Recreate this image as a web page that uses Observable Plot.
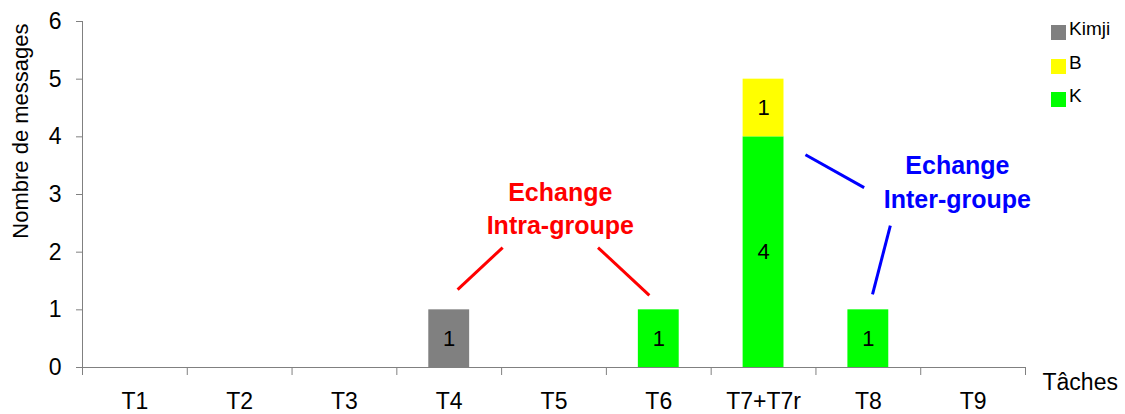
<!DOCTYPE html>
<html><head><meta charset="utf-8">
<script src="https://cdn.jsdelivr.net/npm/d3@7"></script>
<script src="https://cdn.jsdelivr.net/npm/@observablehq/plot@0.6"></script>
<style>
html,body{margin:0;padding:0;background:#fff;}
#chart{position:relative;width:1125px;height:414px;font-family:"Liberation Sans",Arial,Helvetica,sans-serif;}
#chart svg{display:block;}
.legend{position:absolute;left:1051px;top:0;}
.legend .sw{position:absolute;left:0;width:15px;height:15px;}
.legend .lb{position:absolute;left:18px;font-size:19px;line-height:19px;color:#000;white-space:nowrap;}
</style></head><body><div id="chart"></div>
<script>
// ---- data ----
const categories = ["T1","T2","T3","T4","T5","T6","T7+T7r","T8","T9"];
const kimjiValues = [0,0,0,1,0,0,0,0,0];
const kValues     = [0,0,0,0,0,1,4,1,0];
const bValues     = [0,0,0,0,0,0,1,0,0];
const stackOrder  = ["Kimji","K","B"];
const legendOrder = ["Kimji","B","K"];
const seriesColors = {Kimji:"#808080", B:"#ffff00", K:"#00ff00"};
const yTicks = [0,1,2,3,4,5,6];
const xLabel = "Tâches";
const yLabel = "Nombre de messages";

// annotations (data units: x = category index units, y = messages)
const intraText = ["Echange","Intra-groupe"];
const interText = ["Echange","Inter-groupe"];
const intraLines = [[3.58,1.35,4.01,2.08],[4.92,2.08,5.41,1.25]];
const interLines = [[6.90,3.69,7.46,3.12],[7.71,2.46,7.54,1.27]];
const intraPos = {x:4.56, y:[3.03,2.45]};
const interPos = {x:8.35, y:[3.50,2.90]};

// ---- build table ----
const valuesBySeries = {Kimji:kimjiValues, K:kValues, B:bValues};
const rows = [];
stackOrder.forEach(s => valuesBySeries[s].forEach((v,i) => { if (v > 0) rows.push({i, cat:categories[i], series:s, value:v}); }));
const boundaries = d3.range(categories.length + 1);
const centers = categories.map((c,i) => i + 0.5);
const linkRows = [
  ...intraLines.map(l => ({x1:l[0],y1:l[1],x2:l[2],y2:l[3],c:"#ff0000"})),
  ...interLines.map(l => ({x1:l[0],y1:l[1],x2:l[2],y2:l[3],c:"#0000ff"}))
];
const annText = [
  ...intraText.map((t,k) => ({t, x:intraPos.x, y:intraPos.y[k], c:"#ff0000"})),
  ...interText.map((t,k) => ({t, x:interPos.x, y:interPos.y[k], c:"#0000ff"}))
];
const axisColor = "#808080";

const plot = Plot.plot({
  width: 1125, height: 414,
  marginLeft: 82, marginRight: 100, marginTop: 21, marginBottom: 47,
  style: {fontFamily: '"Liberation Sans", Arial, Helvetica, sans-serif', background: "#fff", color: "#000"},
  x: {type: "linear", domain: [0, categories.length]},
  y: {domain: [0, 6]},
  color: {domain: Object.keys(seriesColors), range: Object.values(seriesColors)},
  marks: [
    Plot.rectY(rows, Plot.stackY({x1: d => d.i + 0.305, x2: d => d.i + 0.695, y: "value", fill: "series", order: stackOrder})),
    Plot.text(rows, Plot.stackY({x: d => d.i + 0.5, y: "value", z: "series", text: d => String(d.value), order: stackOrder, fontSize: 22, fill: "#000"})),
    Plot.ruleY([0], {stroke: axisColor}),
    Plot.ruleX([0], {stroke: axisColor}),
    Plot.axisY({ticks: yTicks, tickSize: 6, tickPadding: 15, fontSize: 23, stroke: axisColor, fill: "#000", tickFormat: d3.format("d"), label: null}),
    Plot.axisX({ticks: boundaries, tickSize: 8, tickFormat: () => "", stroke: axisColor, label: null}),
    Plot.axisX({ticks: centers, tickSize: 0, tickPadding: 25, fontSize: 23, fill: "#000", tickFormat: v => categories[Math.floor(v)], label: null}),
    Plot.text([xLabel], {x: categories.length, y: 0, text: d => d, textAnchor: "start", dx: 17, dy: 15, fontSize: 23, fill: "#000"}),
    Plot.text([yLabel], {x: 0, y: 4.1, text: d => d, rotate: -90, dx: -62, fontSize: 22, fill: "#000"}),
    Plot.link(linkRows, {x1: "x1", y1: "y1", x2: "x2", y2: "y2", stroke: "c", strokeWidth: 3}),
    Plot.text(annText, {x: "x", y: "y", text: "t", fill: "c", fontSize: 25, fontWeight: "bold"})
  ]
});
const chart = document.getElementById("chart");
chart.appendChild(plot);

// legend
const legend = document.createElement("div");
legend.className = "legend";
legendOrder.forEach((s, k) => {
  const top = 25 + k * 33.5;
  const sw = document.createElement("div");
  sw.className = "sw"; sw.style.top = top + "px"; sw.style.background = seriesColors[s];
  const lb = document.createElement("div");
  lb.className = "lb"; lb.style.top = (top - 6) + "px"; lb.textContent = s;
  legend.appendChild(sw); legend.appendChild(lb);
});
chart.appendChild(legend);
</script>
</body></html>
